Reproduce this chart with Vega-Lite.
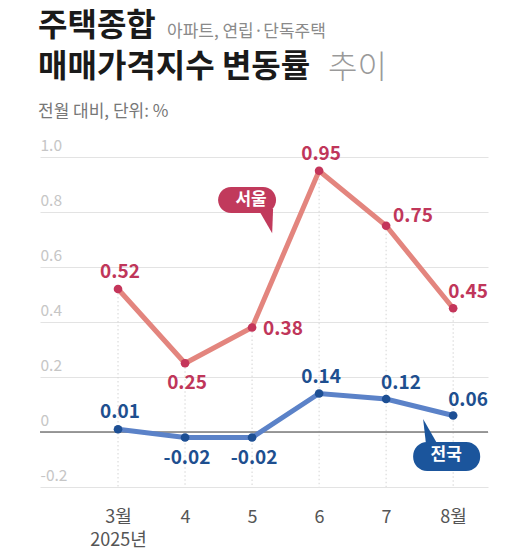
{
  "$schema": "https://vega.github.io/schema/vega-lite/v6.json",
  "width": 448,
  "height": 330,
  "autosize": "none",
  "padding": {"left": 40, "top": 157, "right": 30, "bottom": 70},
  "background": "white",
  "config": {
    "view": {"stroke": null},
    "font": "Noto Sans CJK KR",
    "locale": {"number": {"decimal": ".", "thousands": ",", "grouping": [3], "currency": ["$", ""], "minus": "-"}}
  },
  "title": {
    "text": ["주택종합", "매매가격지수 변동률"],
    "subtitle": "전월 대비, 단위: %",
    "anchor": "start",
    "frame": "group",
    "font": "Noto Sans CJK KR",
    "fontSize": 32,
    "fontWeight": "bold",
    "color": "#1a1a1a",
    "lineHeight": 41,
    "subtitleFont": "Noto Sans CJK KR",
    "subtitleFontSize": 17,
    "subtitleColor": "#777777",
    "subtitlePadding": 20,
    "offset": -98,
    "dx": -2
  },
  "data": {
    "values": [
      {"month": 3, "series": "서울", "value": 0.52},
      {"month": 4, "series": "서울", "value": 0.25},
      {"month": 5, "series": "서울", "value": 0.38},
      {"month": 6, "series": "서울", "value": 0.95},
      {"month": 7, "series": "서울", "value": 0.75},
      {"month": 8, "series": "서울", "value": 0.45},
      {"month": 3, "series": "전국", "value": 0.01},
      {"month": 4, "series": "전국", "value": -0.02},
      {"month": 5, "series": "전국", "value": -0.02},
      {"month": 6, "series": "전국", "value": 0.14},
      {"month": 7, "series": "전국", "value": 0.12},
      {"month": 8, "series": "전국", "value": 0.06}
    ]
  },
  "layer": [
    {
      "transform": [{"filter": "datum.series == '서울'"}],
      "mark": {"type": "rule", "color": "#d4d4d4", "strokeWidth": 1, "strokeDash": [1.5, 2.5]},
      "encoding": {
        "x": {
          "field": "month", "type": "quantitative",
          "scale": {"domain": [1.836, 8.52], "nice": false, "zero": false},
          "axis": {
            "title": null, "domain": false, "ticks": false, "grid": false,
            "values": [3, 4, 5, 6, 7, 8],
            "labelExpr": "datum.value == 3 ? ['3월', '2025년'] : datum.value == 8 ? '8월' : '' + datum.value",
            "labelFontSize": 18, "labelColor": "#555555", "labelPadding": 21, "labelLineHeight": 23,
            "labelOverlap": false, "labelFlush": false
          }
        },
        "y": {
          "field": "value", "type": "quantitative",
          "scale": {"domain": [-0.2, 1.0], "nice": false, "zero": false},
          "axis": {
            "title": null, "domain": false, "ticks": false, "grid": true,
            "gridColor": "#e3e3e3", "gridWidth": 1,
            "values": [-0.2, 0, 0.2, 0.4, 0.6, 0.8, 1.0],
            "labelExpr": "datum.value == 0 ? '0' : replace(format(datum.value, '.1f'), '\u2212', '-')",
            "labelAlign": "left", "labelPadding": 0, "labelBaseline": "alphabetic", "labelOffset": -7,
            "labelColor": "#c6c6c6", "labelFontSize": 15.5
          }
        },
        "y2": {"datum": -0.2}
      }
    },
    {
      "data": {"values": [{}]},
      "mark": {"type": "rule", "color": "#7a7a7a", "strokeWidth": 1.5},
      "encoding": {"y": {"datum": 0}}
    },
    {
      "transform": [{"filter": "datum.series == '서울'"}],
      "mark": {"type": "line", "color": "#e3857e", "strokeWidth": 5},
      "encoding": {
        "x": {"field": "month", "type": "quantitative"},
        "y": {"field": "value", "type": "quantitative"}
      }
    },
    {
      "transform": [{"filter": "datum.series == '전국'"}],
      "mark": {"type": "line", "color": "#5b82c8", "strokeWidth": 5},
      "encoding": {
        "x": {"field": "month", "type": "quantitative"},
        "y": {"field": "value", "type": "quantitative"}
      }
    },
    {
      "mark": {"type": "point", "filled": true, "size": 75, "opacity": 1},
      "encoding": {
        "x": {"field": "month", "type": "quantitative"},
        "y": {"field": "value", "type": "quantitative"},
        "color": {"condition": {"test": "datum.series == '서울'", "value": "#c4355a"}, "value": "#1d4f94"}
      }
    },
    {
      "transform": [{"filter": "(datum.month == 3 || datum.month == 6)"}],
      "mark": {"type": "text", "fontSize": 19, "fontWeight": "bold", "align": "center", "baseline": "alphabetic", "dx": 2, "dy": -11},
      "encoding": {
        "x": {"field": "month", "type": "quantitative"},
        "y": {"field": "value", "type": "quantitative"},
        "text": {"field": "value", "type": "quantitative", "format": ".2f"},
        "color": {"condition": {"test": "datum.series == '서울'", "value": "#c0365a"}, "value": "#1e4f8f"}
      }
    },
    {
      "transform": [{"filter": "(datum.series == '서울' && datum.month == 8) || (datum.series == '전국' && (datum.month == 7 || datum.month == 8))"}],
      "mark": {"type": "text", "fontSize": 19, "fontWeight": "bold", "align": "left", "baseline": "alphabetic", "dx": -5, "dy": -10},
      "encoding": {
        "x": {"field": "month", "type": "quantitative"},
        "y": {"field": "value", "type": "quantitative"},
        "text": {"field": "value", "type": "quantitative", "format": ".2f"},
        "color": {"condition": {"test": "datum.series == '서울'", "value": "#c0365a"}, "value": "#1e4f8f"}
      }
    },
    {
      "transform": [{"filter": "datum.series == '서울' && datum.month == 5"}],
      "mark": {"type": "text", "fontSize": 19, "fontWeight": "bold", "align": "left", "baseline": "middle", "dx": 11, "dy": 1, "color": "#c0365a"},
      "encoding": {
        "x": {"field": "month", "type": "quantitative"},
        "y": {"field": "value", "type": "quantitative"},
        "text": {"field": "value", "type": "quantitative", "format": ".2f"}
      }
    },
    {
      "transform": [{"filter": "datum.series == '서울' && datum.month == 7"}],
      "mark": {"type": "text", "fontSize": 19, "fontWeight": "bold", "align": "left", "baseline": "alphabetic", "dx": 7, "dy": -4, "color": "#c0365a"},
      "encoding": {
        "x": {"field": "month", "type": "quantitative"},
        "y": {"field": "value", "type": "quantitative"},
        "text": {"field": "value", "type": "quantitative", "format": ".2f"}
      }
    },
    {
      "transform": [{"filter": "(datum.series == '서울' && datum.month == 4) || (datum.series == '전국' && (datum.month == 4 || datum.month == 5))"}],
      "mark": {"type": "text", "fontSize": 19, "fontWeight": "bold", "align": "center", "baseline": "top", "dx": 2, "dy": 11},
      "encoding": {
        "x": {"field": "month", "type": "quantitative"},
        "y": {"field": "value", "type": "quantitative"},
        "text": {"field": "value", "type": "quantitative", "format": ".2f"},
        "color": {"condition": {"test": "datum.series == '서울'", "value": "#c0365a"}, "value": "#1e4f8f"}
      }
    },
    {
      "data": {"values": [{}]},
      "mark": {"type": "rect", "color": "#c13a5c", "cornerRadius": 13},
      "encoding": {"x": {"datum": 4.493}, "x2": {"datum": 5.358}, "y": {"datum": 0.891}, "y2": {"datum": 0.796}}
    },
    {
      "data": {"values": [{}]},
      "mark": {"type": "point", "filled": true, "opacity": 1, "color": "#c13a5c", "size": 529, "shape": "M -0.65 -1.1 L 0.65 -1.1 L 0.57 1 Z"},
      "encoding": {"x": {"datum": 5.202}, "y": {"datum": 0.765}}
    },
    {
      "data": {"values": [{}]},
      "mark": {"type": "text", "text": "서울", "color": "white", "fontSize": 17, "fontWeight": "bold", "align": "center", "baseline": "middle"},
      "encoding": {"x": {"datum": 4.985}, "y": {"datum": 0.844}}
    },
    {
      "data": {"values": [{}]},
      "mark": {"type": "rect", "color": "#1b559c", "cornerRadius": 14},
      "encoding": {"x": {"datum": 7.403}, "x2": {"datum": 8.403}, "y": {"datum": -0.036}, "y2": {"datum": -0.142}}
    },
    {
      "data": {"values": [{}]},
      "mark": {"type": "point", "filled": true, "opacity": 1, "color": "#1b559c", "size": 625, "shape": "M -0.6 -1 L -0.36 1.1 L 0.6 1.1 Z"},
      "encoding": {"x": {"datum": 7.664}, "y": {"datum": 0.002}}
    },
    {
      "data": {"values": [{}]},
      "mark": {"type": "text", "text": "전국", "color": "white", "fontSize": 17, "fontWeight": "bold", "align": "center", "baseline": "middle"},
      "encoding": {"x": {"datum": 7.896}, "y": {"datum": -0.084}}
    },
    {
      "data": {"values": [{}]},
      "mark": {"type": "text", "text": "아파트, 연립·단독주택", "color": "#8a8a8a", "fontSize": 17, "align": "left", "baseline": "alphabetic"},
      "encoding": {"x": {"datum": 3.731}, "y": {"datum": 1.436}}
    },
    {
      "data": {"values": [{}]},
      "mark": {"type": "text", "text": "추이", "color": "#9a9a9a", "fontSize": 32, "fontWeight": 300, "align": "left", "baseline": "alphabetic"},
      "encoding": {"x": {"datum": 6.134}, "y": {"datum": 1.287}}
    }
  ]
}
